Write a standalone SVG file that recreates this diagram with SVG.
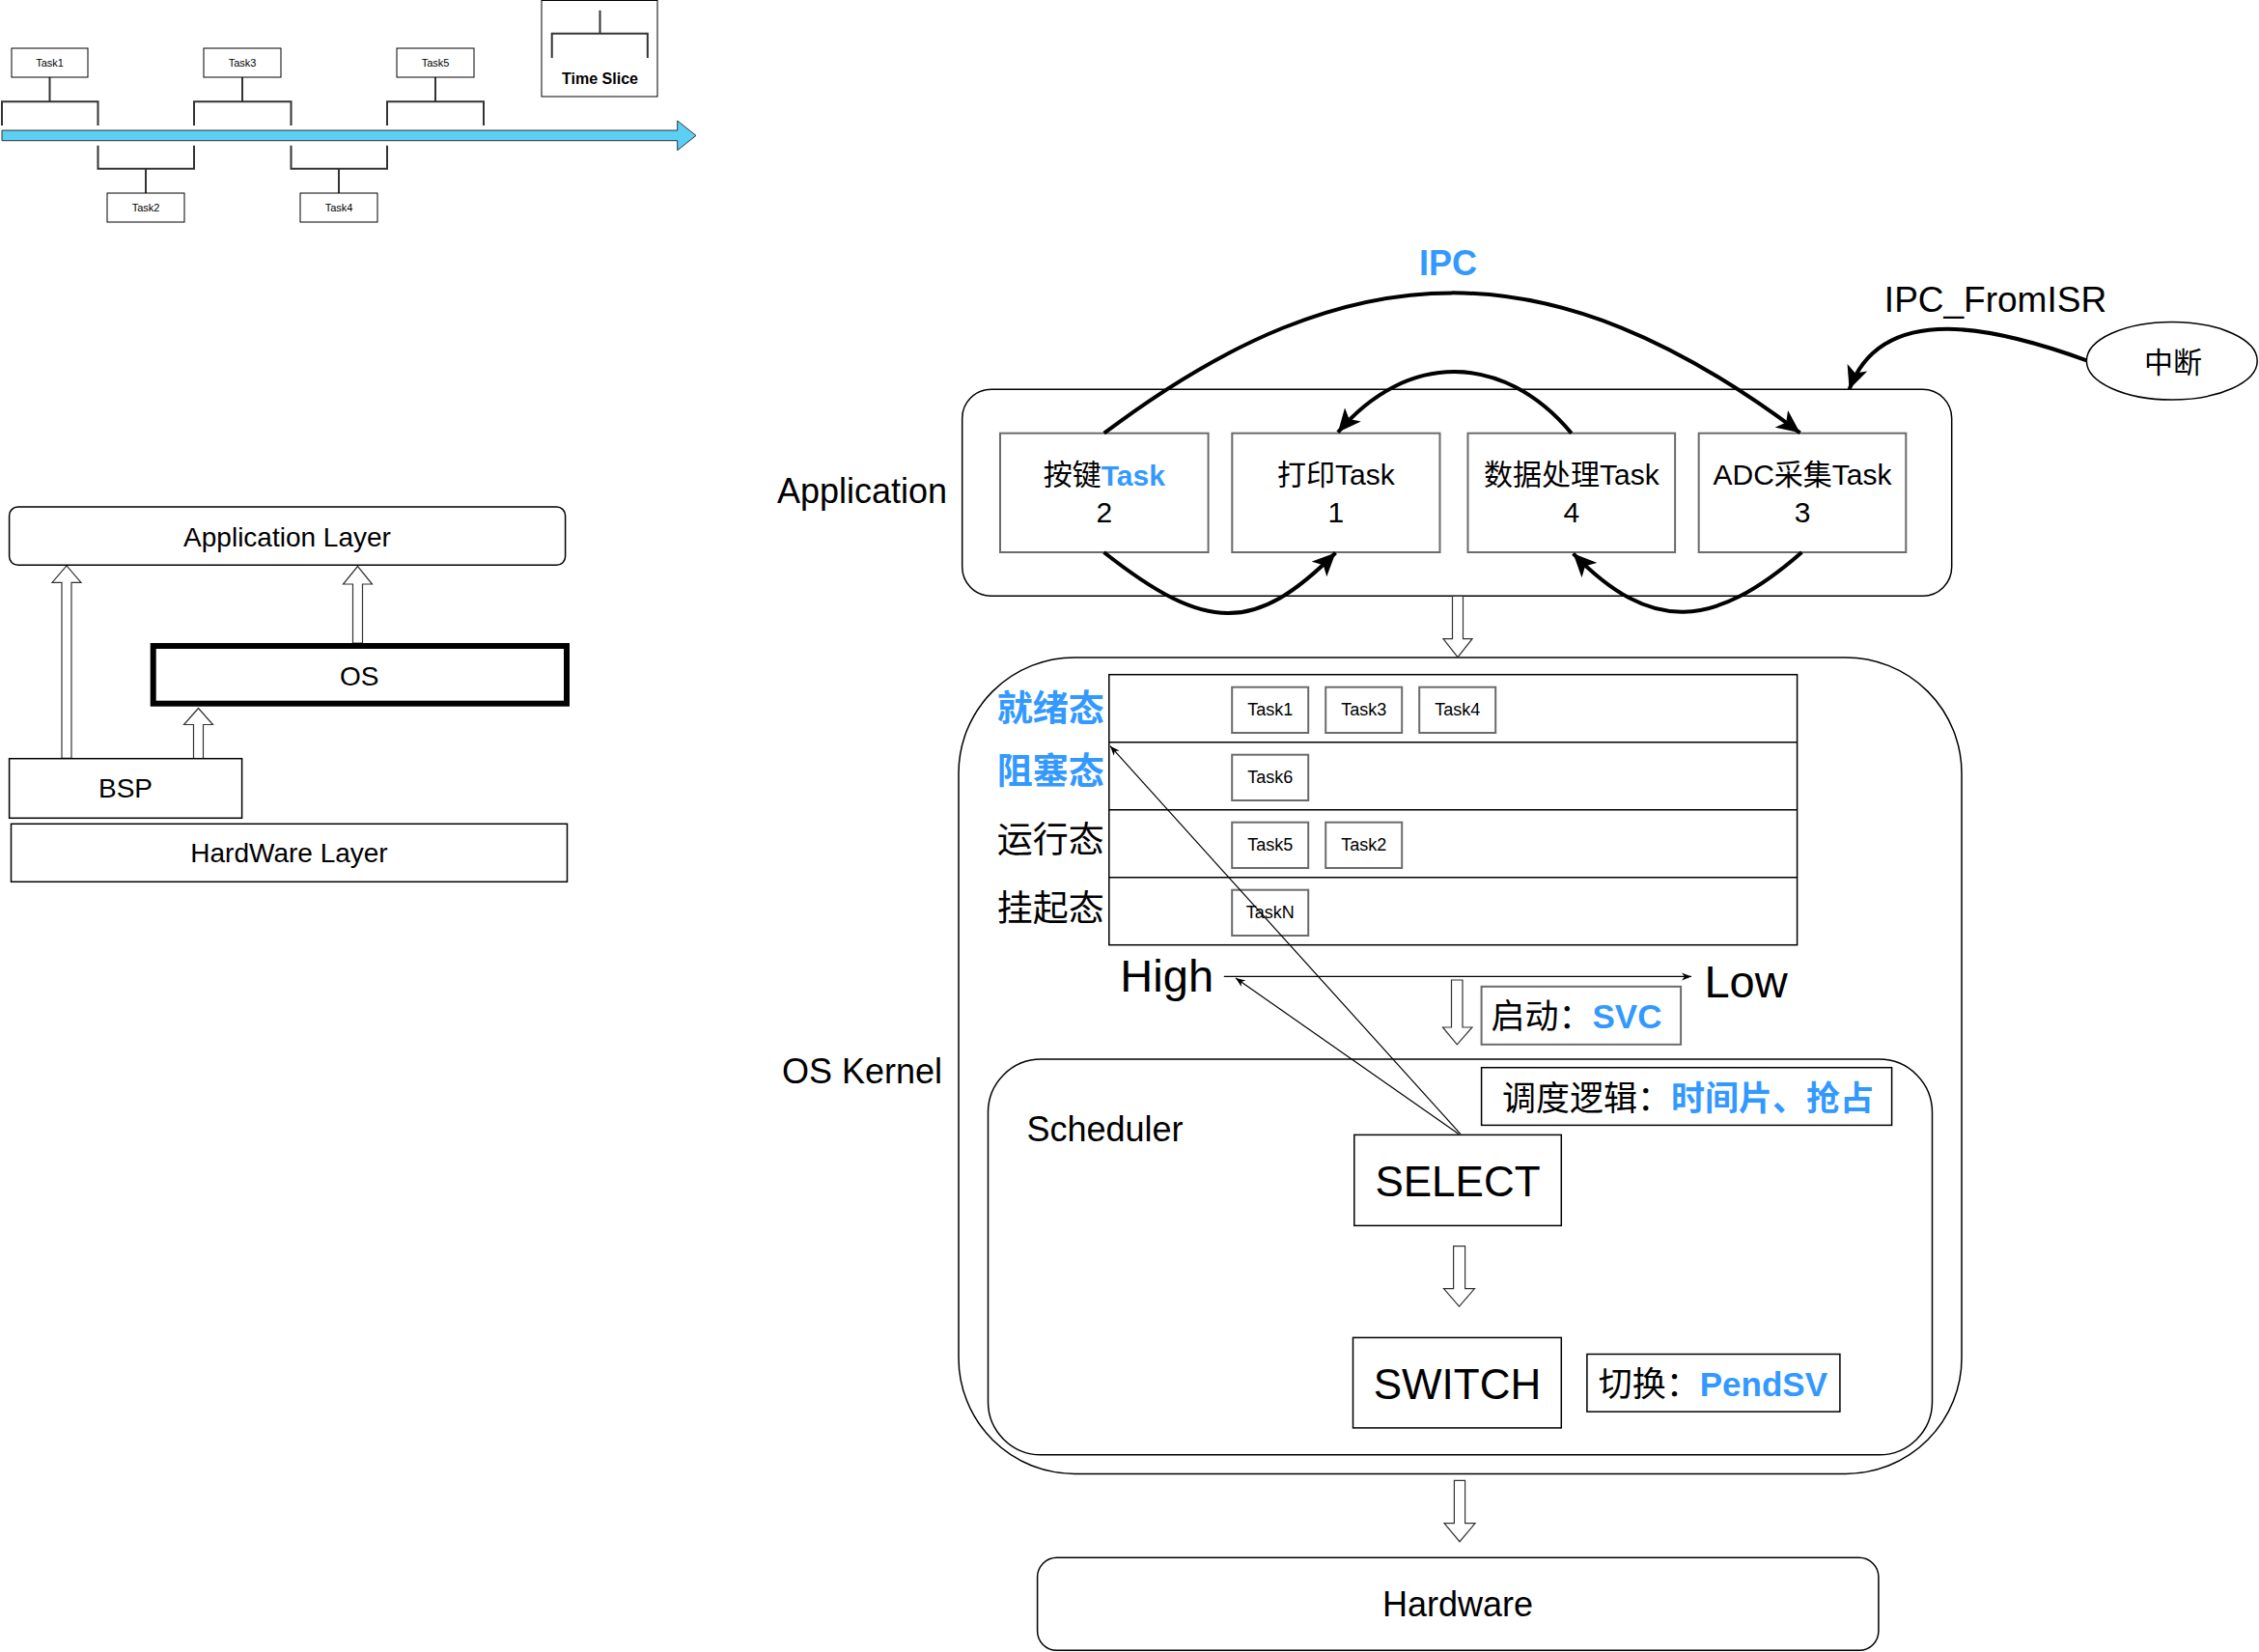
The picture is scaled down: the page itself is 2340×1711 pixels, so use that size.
<svg xmlns="http://www.w3.org/2000/svg" width="2340" height="1711" viewBox="0 0 2340 1711">
<style>
.box{fill:#fff;stroke:#000;stroke-width:1.5}
.tbox{fill:#fff;stroke:#6b6b6b;stroke-width:2}
.t{font-family:"Liberation Sans","Noto Sans CJK SC",sans-serif;fill:#000;text-anchor:middle;dominant-baseline:central}
.bl{fill:#3399FF;font-weight:bold}
.curve{fill:none;stroke:#000;stroke-width:4;marker-end:url(#ah)}
.thin{fill:none;stroke:#000;stroke-width:1.2;marker-end:url(#ahs)}
.block{fill:#fff;stroke:#333;stroke-width:1.2}
.brk{fill:none;stroke:#333;stroke-width:2}
</style>
<defs>
<marker id="ah" markerUnits="userSpaceOnUse" markerWidth="26" markerHeight="22" viewBox="0 0 26 22" refX="24" refY="11" orient="auto">
<path d="M0,0 L24,11 L0,22 L6,11 Z" fill="#000"/>
</marker>
<marker id="ahs" markerUnits="userSpaceOnUse" markerWidth="12" markerHeight="10" viewBox="0 0 12 10" refX="10" refY="4" orient="auto">
<path d="M0,0 L10,4 L0,8 L3,4 Z" fill="#000"/>
</marker>
</defs>
<rect width="2340" height="1711" fill="#fff"/>

<g id="timeline">
<path class="brk" d="M2,130 V105.3 H101.5 V130 M51.5,80 V105.3"/>
<path class="brk" d="M201,130 V105.3 H301.5 V130 M251,80 V105.3"/>
<path class="brk" d="M401,130 V105.3 H501 V130 M451,80 V105.3"/>
<path class="brk" d="M101.5,150.7 V174.7 H201 V150.7 M151,174.7 V200"/>
<path class="brk" d="M301.5,150.7 V174.7 H401 V150.7 M351,174.7 V200"/>
<path d="M2,135 H701.7 V125 L721,140.4 L701.7,155.7 V145.7 H2 Z" fill="#5BCFF4" stroke="#333" stroke-width="1"/>
</g>
<g id="tl-task1"><rect x="12" y="50" width="79" height="30" fill="#fff" stroke="#000"/><text class="t" x="51.5" y="65" font-size="11">Task1</text></g>
<g id="tl-task3"><rect x="211" y="50" width="80" height="30" fill="#fff" stroke="#000"/><text class="t" x="251" y="65" font-size="11">Task3</text></g>
<g id="tl-task5"><rect x="411" y="50" width="80" height="30" fill="#fff" stroke="#000"/><text class="t" x="451" y="65" font-size="11">Task5</text></g>
<g id="tl-task2"><rect x="111" y="200" width="80" height="30" fill="#fff" stroke="#000"/><text class="t" x="151" y="215" font-size="11">Task2</text></g>
<g id="tl-task4"><rect x="311" y="200" width="80" height="30" fill="#fff" stroke="#000"/><text class="t" x="351" y="215" font-size="11">Task4</text></g>
<g id="time-slice">
<rect x="561" y="0.5" width="120" height="99.5" fill="#fff" stroke="#000"/>
<path class="brk" d="M621.5,10.7 V34.7 M571.7,60 V34.7 H670.8 V60"/>
<text class="t" x="621.5" y="81" font-size="16" font-weight="bold">Time Slice</text>
</g>

<g id="layer-connectors">
<path class="block" d="M64,785.3 V603.3 H54 L69,585.8 L84,603.3 H74 V785.3 Z"/>
<path class="block" d="M365.5,666 V605 H355.5 L370.5,586.5 L385.5,605 H375.5 V666 Z"/>
<path class="block" d="M200.5,785.7 V750.5 H190.5 L205.5,733.5 L220.5,750.5 H210.5 V785.7 Z"/>
</g>
<g id="app-layer"><rect class="box" x="9.6" y="525" width="576" height="60.3" rx="9"/><text class="t" x="297.5" y="556" font-size="28">Application Layer</text></g>
<g id="os"><rect x="158.7" y="669" width="428.3" height="59.7" fill="#fff" stroke="#000" stroke-width="6"/><text class="t" x="372.3" y="700" font-size="28">OS</text></g>
<g id="bsp"><rect class="box" x="9.6" y="785.7" width="241" height="61.6"/><text class="t" x="130" y="816.5" font-size="28">BSP</text></g>
<g id="hw-layer"><rect class="box" x="11.5" y="853.3" width="576" height="60"/><text class="t" x="299.5" y="883.3" font-size="28">HardWare Layer</text></g>

<g id="application">
<rect class="box" x="996.7" y="403.3" width="1025" height="214" rx="30"/>
<text class="t" x="893" y="508.5" font-size="36">Application</text>
</g>
<g id="task-key"><rect class="tbox" x="1036" y="448.7" width="215.6" height="123.3"/><text class="t" x="1143.8" y="491.5" font-size="30">按键<tspan class="bl">Task</tspan></text><text class="t" x="1143.8" y="530" font-size="30">2</text></g>
<g id="task-print"><rect class="tbox" x="1276.3" y="448.7" width="215.2" height="123.3"/><text class="t" x="1383.9" y="491.5" font-size="30">打印Task</text><text class="t" x="1383.9" y="530" font-size="30">1</text></g>
<g id="task-data"><rect class="tbox" x="1520.5" y="448.7" width="214.6" height="123.3"/><text class="t" x="1627.8" y="491.5" font-size="30">数据处理Task</text><text class="t" x="1627.8" y="530" font-size="30">4</text></g>
<g id="task-adc"><rect class="tbox" x="1759.7" y="448.7" width="214.6" height="123.3"/><text class="t" x="1867" y="491.5" font-size="30">ADC采集Task</text><text class="t" x="1867" y="530" font-size="30">3</text></g>
<g id="interrupt"><ellipse cx="2249.8" cy="373.7" rx="88.4" ry="40.3" fill="#fff" stroke="#000" stroke-width="1.5"/><text class="t" x="2251" y="375" font-size="30">中断</text></g>

<g id="kernel">
<rect class="box" x="993" y="681" width="1039" height="845.4" rx="120"/>
<text class="t" x="893" y="1109" font-size="36">OS Kernel</text>
</g>
<g id="state-table">
<rect x="1148.8" y="698.7" width="712.8" height="280" fill="#fff" stroke="#000" stroke-width="1.5"/>
<path d="M1148.8,768.7 H1861.6 M1148.8,838.7 H1861.6 M1148.8,908.7 H1861.6" stroke="#000" stroke-width="1.5"/>
<text class="t bl" x="1088.2" y="734.5" font-size="37">就绪态</text>
<text class="t bl" x="1088.2" y="799.5" font-size="37">阻塞态</text>
<text class="t" x="1088.2" y="870" font-size="37">运行态</text>
<text class="t" x="1088.2" y="941.5" font-size="37">挂起态</text>
</g>
<g id="st-task1"><rect class="tbox" x="1276.2" y="711.7" width="79" height="47.3"/><text class="t" x="1315.7" y="735.3" font-size="18">Task1</text></g>
<g id="st-task3"><rect class="tbox" x="1373.2" y="711.7" width="79" height="47.3"/><text class="t" x="1412.7" y="735.3" font-size="18">Task3</text></g>
<g id="st-task4"><rect class="tbox" x="1470.2" y="711.7" width="79" height="47.3"/><text class="t" x="1509.7" y="735.3" font-size="18">Task4</text></g>
<g id="st-task6"><rect class="tbox" x="1276.2" y="781.7" width="79" height="47.3"/><text class="t" x="1315.7" y="805.3" font-size="18">Task6</text></g>
<g id="st-task5"><rect class="tbox" x="1276.2" y="851.7" width="79" height="47.3"/><text class="t" x="1315.7" y="875.3" font-size="18">Task5</text></g>
<g id="st-task2"><rect class="tbox" x="1373.2" y="851.7" width="79" height="47.3"/><text class="t" x="1412.7" y="875.3" font-size="18">Task2</text></g>
<g id="st-taskN"><rect class="tbox" x="1276.2" y="921.7" width="79" height="47.3"/><text class="t" x="1315.7" y="945.3" font-size="18">TaskN</text></g>

<g id="priority">
<text class="t" x="1208.7" y="1027" font-size="47" style="dominant-baseline:auto">High</text>
<text class="t" x="1808.6" y="1033" font-size="47" style="dominant-baseline:auto">Low</text>
</g>
<g id="svc"><rect class="tbox" x="1534.6" y="1021.8" width="206.5" height="60"/><text class="t" x="1633" y="1052" font-size="35">启动：<tspan class="bl">SVC</tspan></text></g>

<g id="scheduler">
<rect class="box" x="1023.5" y="1097.1" width="978" height="409.7" rx="55"/>
<text class="t" x="1144.5" y="1169.5" font-size="36">Scheduler</text>
</g>
<g id="sched-logic"><rect class="box" x="1534.6" y="1105.7" width="425" height="59.7"/><text class="t" x="1748.4" y="1137" font-size="35">调度逻辑：<tspan class="bl">时间片、抢占</tspan></text></g>
<g id="select"><rect class="box" x="1402.8" y="1175.4" width="214.5" height="94"/><text class="t" x="1510" y="1223" font-size="44">SELECT</text></g>
<g id="switch"><rect class="box" x="1401.5" y="1385.4" width="215.8" height="93.5"/><text class="t" x="1509.5" y="1433" font-size="44">SWITCH</text></g>
<g id="pendsv"><rect class="box" x="1643.9" y="1402.5" width="262" height="59.6"/><text class="t" x="1774.4" y="1433" font-size="35">切换：<tspan class="bl">PendSV</tspan></text></g>
<g id="hardware"><rect class="box" x="1074.6" y="1613.3" width="871.3" height="96" rx="20"/><text class="t" x="1510" y="1661" font-size="36">Hardware</text></g>

<g id="connectors">
<path class="curve" d="M1143.7,448.7 C1400.7,255 1607.6,255 1864.6,448.3"/>
<path class="curve" d="M1627.8,448.7 C1556.8,364 1456.9,364 1385.9,447.8"/>
<path class="curve" d="M1143.5,572 C1250,656 1300,656 1383.5,572.5"/>
<path class="curve" d="M1866.4,572 C1775,652 1710,656 1629.6,573.3"/>
<path class="curve" d="M2161.4,373.3 C2070,340 1950,310 1915.6,403.3"/>
<text class="t bl" x="1500" y="272" font-size="36">IPC</text>
<text class="t" x="2067" y="310" font-size="37">IPC_FromISR</text>
<path class="block" d="M1504.5,617.3 V661.7 H1495 L1510,680.7 L1525,661.7 H1515.5 V617.3 Z"/>
<path class="block" d="M1503.5,1015 V1064 H1494.5 L1509.3,1081.8 L1525,1064 H1515 V1015 Z"/>
<path class="block" d="M1505.6,1290.7 V1334.6 H1495.5 L1511.5,1353.2 L1527.5,1334.6 H1517.6 V1290.7 Z"/>
<path class="block" d="M1506.4,1533.3 V1577.7 H1496 L1512,1596.7 L1528,1577.7 H1517.6 V1533.3 Z"/>
<path class="thin" d="M1267.8,1011.4 L1752,1011.4"/>
<path class="thin" d="M1511,1174.6 L1280,1013"/>
<path class="thin" d="M1513,1174.6 L1150,772.7"/>
</g>
</svg>
